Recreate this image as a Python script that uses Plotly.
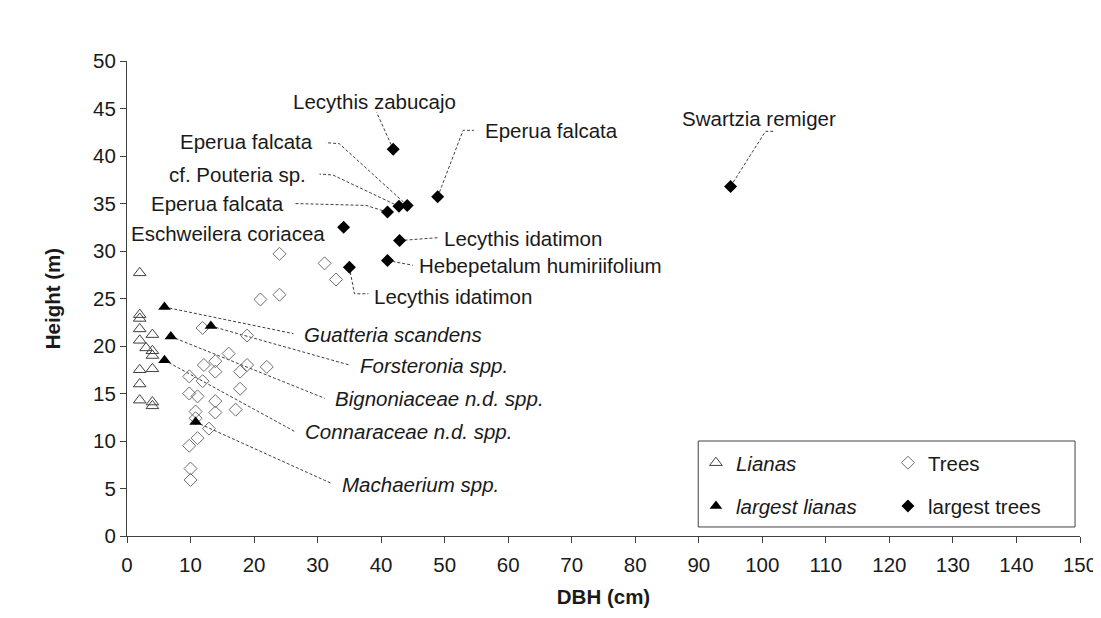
import plotly.graph_objects as go

# ---------------- data ----------------
liana_dbh = [2, 2, 2, 2, 2, 2, 2, 2, 3, 4, 4, 4, 4, 4, 4]
liana_height = [27.7, 23.3, 22.9, 21.8, 20.6, 17.5, 16.0, 14.3, 19.8, 21.2, 19.5, 19.0, 17.6, 14.1, 13.7]

tree_dbh = [24.0, 31.1, 32.9, 21.0, 24.0, 11.9, 18.9, 16.0, 12.1, 13.9, 13.9, 18.9, 22.0, 17.8,
            9.8, 11.9, 17.8, 9.8, 11.1, 13.9, 13.9, 17.1, 10.8, 10.8, 12.9, 11.1, 9.8, 10.0, 10.0]
tree_height = [29.7, 28.7, 27.0, 24.9, 25.4, 21.9, 21.1, 19.2, 18.0, 18.4, 17.3, 18.0, 17.8, 17.3,
               16.8, 16.3, 15.5, 15.0, 14.7, 14.2, 13.0, 13.3, 13.1, 12.4, 11.3, 10.3, 9.5, 7.1, 5.9]

big_liana_names = ["Guatteria scandens", "Forsteronia spp.", "Bignoniaceae n.d. spp.",
                   "Connaraceae n.d. spp.", "Machaerium spp."]
big_liana_dbh = [5.9, 13.2, 6.9, 5.9, 10.8]
big_liana_height = [24.1, 22.1, 21.0, 18.5, 12.0]

big_tree_names = ["Lecythis zabucajo", "Eperua falcata", "Eperua falcata", "cf. Pouteria sp.",
                  "Eperua falcata", "Eschweilera coriacea", "Lecythis idatimon",
                  "Hebepetalum humiriifolium", "Lecythis idatimon", "Swartzia remiger"]
big_tree_dbh = [41.9, 48.9, 44.1, 42.8, 41.0, 34.1, 42.9, 41.0, 35.0, 95.0]
big_tree_height = [40.7, 35.7, 34.8, 34.7, 34.1, 32.5, 31.1, 29.0, 28.3, 36.8]

x_ticks = list(range(0, 151, 10))
y_ticks = list(range(0, 51, 5))

# ---------------- label layout (positions of data labels) ----------------
liana_label_pos = [(27.5, 21.2), (36.3, 18.0), (32.4, 14.5), (27.7, 11.0), (33.6, 5.4)]
liana_leader_pts = [[(26.2, 21.3)], [(35.0, 18.0)], [(31.1, 14.5)], [(26.4, 11.0)], [(32.3, 5.5)]]

tree_label_pos = [(39.0, 45.7, "center"), (56.0, 42.7, "left"), (29.6, 41.5, "right"),
                  (28.5, 38.1, "right"), (25.0, 35.05, "right"), (31.5, 31.8, "right"),
                  (49.6, 31.3, "left"), (45.7, 28.5, "left"), (38.6, 25.2, "left"),
                  (87.1, 44.0, "left")]
tree_leader_pts = [[(39.3, 44.6)], [(52.9, 42.7), (54.6, 42.7)], [(33.4, 41.3), (31.3, 41.4)],
                   [(32.4, 38.0), (30.3, 38.1)], [(37.6, 34.8), (26.2, 35.0)], [],
                   [(48.9, 31.4)], [(45.0, 28.5)], [(35.8, 25.5), (38.0, 25.5)],
                   [(100.5, 42.6), (102.0, 42.6)]]

FONT = "Liberation Sans, Arial, sans-serif"
FS = 20.5
TXT = "#1a1a1a"
AX = "#404040"

fig = go.Figure()

# leader lines
lx, ly = [], []
for px, py, pts in zip(big_liana_dbh, big_liana_height, liana_leader_pts):
    if pts:
        lx += [px] + [p[0] for p in pts] + [None]
        ly += [py] + [p[1] for p in pts] + [None]
for px, py, pts in zip(big_tree_dbh, big_tree_height, tree_leader_pts):
    if pts:
        lx += [px] + [p[0] for p in pts] + [None]
        ly += [py] + [p[1] for p in pts] + [None]
fig.add_trace(go.Scatter(x=lx, y=ly, mode="lines", showlegend=False, hoverinfo="skip",
                         line=dict(color=AX, width=1, dash="3px,2px")))

fig.add_trace(go.Scatter(x=liana_dbh, y=liana_height, mode="markers", name="<i>Lianas</i>",
                         legend="legend",
                         marker=dict(symbol="triangle-up-open", size=11, color="#404040",
                                     line=dict(width=1))))
fig.add_trace(go.Scatter(x=tree_dbh, y=tree_height, mode="markers", name="Trees",
                         legend="legend",
                         marker=dict(symbol="diamond-open", size=10, color="#6e6e6e",
                                     line=dict(width=1))))
fig.add_trace(go.Scatter(x=big_liana_dbh, y=big_liana_height, mode="markers",
                         name="<i>largest lianas</i>", legend="legend2", text=big_liana_names,
                         marker=dict(symbol="triangle-up", size=11, color="#000000")))
fig.add_trace(go.Scatter(x=big_tree_dbh, y=big_tree_height, mode="markers",
                         name="largest trees", legend="legend2", text=big_tree_names,
                         marker=dict(symbol="diamond", size=10, color="#000000")))

annotations = []
for name, (ax_, ay_) in zip(big_liana_names, liana_label_pos):
    annotations.append(dict(x=ax_, y=ay_, xref="x", yref="y", text="<i>" + name + "</i>",
                            showarrow=False, xanchor="left", yanchor="middle",
                            font=dict(family=FONT, size=FS, color=TXT)))
for name, (ax_, ay_, anc) in zip(big_tree_names, tree_label_pos):
    annotations.append(dict(x=ax_, y=ay_, xref="x", yref="y", text=name,
                            showarrow=False, xanchor=anc, yanchor="middle",
                            font=dict(family=FONT, size=FS, color=TXT)))

leg_common = dict(orientation="h", xanchor="left", yanchor="middle", bgcolor="rgba(0,0,0,0)",
                  borderwidth=0, entrywidth=147, entrywidthmode="pixels",
                  font=dict(family=FONT, size=FS, color=TXT))

fig.update_layout(
    width=1101, height=618,
    margin=dict(l=119, r=21, t=53, b=90),
    paper_bgcolor="white", plot_bgcolor="white",
    font=dict(family=FONT, size=FS, color=TXT),
    annotations=annotations,
    legend=dict(x=0.597, y=0.154, **leg_common),
    legend2=dict(x=0.597, y=0.063, **leg_common),
    shapes=[dict(type="rect", xref="paper", yref="paper", x0=0.5994, x1=0.9948,
                 y0=0.019, y1=0.2, line=dict(color=AX, width=1), fillcolor="rgba(0,0,0,0)",
                 layer="above")],
    xaxis=dict(range=[0, 150], tickvals=x_ticks, showgrid=False, zeroline=False,
               showline=True, linecolor=AX, linewidth=1, ticks="outside", ticklen=6,
               tickcolor=AX, tickfont=dict(family=FONT, size=FS, color=TXT),
               ticklabelstandoff=4,
               title=dict(text="DBH (cm)", standoff=15,
                          font=dict(family=FONT, size=FS, color=TXT, weight="bold"))),
    yaxis=dict(range=[0, 50], tickvals=y_ticks, showgrid=False, zeroline=False,
               showline=True, linecolor=AX, linewidth=1, ticks="outside", ticklen=6,
               tickcolor=AX, tickfont=dict(family=FONT, size=FS, color=TXT),
               title=dict(text="Height (m)", standoff=26,
                          font=dict(family=FONT, size=FS, color=TXT, weight="bold"))),
)

fig.write_html("out.html")
